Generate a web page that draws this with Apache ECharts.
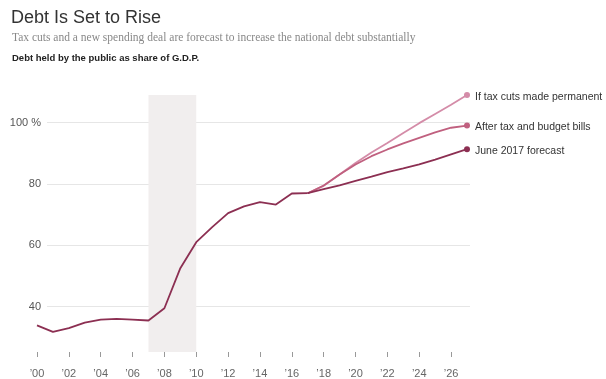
<!DOCTYPE html>
<html><head><meta charset="utf-8">
<script src="https://cdn.jsdelivr.net/npm/echarts@6/dist/echarts.min.js"></script>
<style>html,body{margin:0;padding:0;background:#fff}#c{width:606px;height:379px}</style>
</head><body><div id="c"></div>
<script>
const histYears = [2000,2001,2002,2003,2004,2005,2006,2007,2008,2009,2010,2011,2012,2013,2014,2015,2016,2017];
const histValues = [33.7,31.6,32.8,34.6,35.6,35.8,35.6,35.3,39.3,52.4,60.9,65.8,70.4,72.6,74.0,73.2,76.8,76.9];
const projYears = [2017,2018,2019,2020,2021,2022,2023,2024,2025,2026,2027];
const juneForecast = [76.9,78.2,79.5,80.9,82.3,83.8,85.0,86.3,87.9,89.6,91.3];
const afterBills = [76.9,79.4,83.0,86.3,89.0,91.2,93.2,95.0,96.8,98.3,99.0];
const permanent = [76.9,79.3,83.0,86.8,90.2,93.3,96.6,99.8,102.8,105.8,109.0];
const seriesNames = ['If tax cuts made permanent','After tax and budget bills','June 2017 forecast'];
const xTickYears = [2000,2002,2004,2006,2008,2010,2012,2014,2016,2018,2020,2022,2024,2026];
const yTickValues = [40,60,80,100];
const recession = [2007,2010];

const pair = (xs, ys) => xs.map((x,i)=>[x, ys[i]]);
const lastDot = (n) => (v, p) => p.dataIndex === n-1 ? 6 : 0;

const chart = echarts.init(document.getElementById('c'));
const labelStyle = {fontFamily:"'Liberation Sans',sans-serif", fontSize:10.5, color:'#333'};
function proj(name, vals, color, z){
  return {type:'line', name, xAxisIndex:1, yAxisIndex:1, data:pair(projYears, vals),
    showSymbol:true, symbol:'circle', symbolSize:lastDot(vals.length), z,
    itemStyle:{color}, lineStyle:{color, width:1.8}, silent:true,
    endLabel:{show:true, formatter:name, distance:8, offset:[0,2], ...labelStyle}};
}
chart.setOption({
  animation:false,
  title:[
    {text:'Debt Is Set to Rise', left:11, top:9, padding:0, textStyle:{fontFamily:"'Liberation Sans',sans-serif", fontSize:18, fontWeight:'normal', color:'#333'}},
    {text:'Tax cuts and a new spending deal are forecast to increase the national debt substantially', left:12, top:32, padding:0, textStyle:{fontFamily:"'Liberation Serif',serif", fontSize:11.5, fontWeight:'normal', color:'#888'}},
    {text:'Debt held by the public as share of G.D.P.', left:12, top:53, padding:0, textStyle:{fontFamily:"'Liberation Sans',sans-serif", fontSize:9.5, fontWeight:'bold', color:'#222'}}
  ],
  grid:[
    {left:47, right:136, top:95, bottom:11},
    {left:37, right:139, top:95, bottom:27}
  ],
  xAxis:[
    {gridIndex:0, type:'value', min:2000, max:2027, show:false},
    {gridIndex:1, type:'value', min:2000, max:2027, interval:2,
     axisLine:{show:false}, splitLine:{show:false},
     axisTick:{show:true, length:5, customValues:xTickYears, lineStyle:{color:'#999'}},
     axisLabel:{customValues:xTickYears, margin:16, color:'#666', fontSize:11, fontFamily:"'Liberation Sans',sans-serif",
       formatter:v=>'\u2019'+String(v).slice(2)}}
  ],
  yAxis:[
    {gridIndex:0, type:'value', min:20, max:109, interval:20,
     axisLine:{show:false}, axisTick:{show:false},
     splitLine:{show:true, showMinLine:false, showMaxLine:false, lineStyle:{color:'#e6e6e6', width:1}},
     axisLabel:{margin:6, color:'#555', fontSize:11, fontFamily:"'Liberation Sans',sans-serif",
       formatter:v=> yTickValues.includes(v) ? (v===100 ? '100 %' : String(v)) : ''}},
    {gridIndex:1, type:'value', min:25, max:109, show:false}
  ],
  series:[
    proj(seriesNames[0], permanent, '#d48ca8', 2),
    proj(seriesNames[1], afterBills, '#c0607f', 3),
    proj(seriesNames[2], juneForecast, '#8c2f52', 4),
    {type:'line', name:'history', xAxisIndex:1, yAxisIndex:1, data:pair(histYears, histValues),
     showSymbol:false, z:5, lineStyle:{color:'#8c2f52', width:1.8}, silent:true,
     markArea:{silent:true, itemStyle:{color:'#f1eeee'}, data:[[{xAxis:recession[0]},{xAxis:recession[1]}]]}}
  ]
});
</script></body></html>
